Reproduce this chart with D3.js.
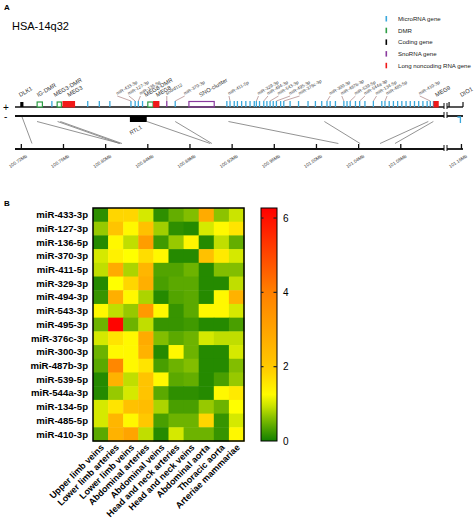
<!DOCTYPE html>
<html><head><meta charset="utf-8">
<script src="https://cdn.jsdelivr.net/npm/d3@7"></script>
<style>body{margin:0;background:#fff}svg{display:block;font-family:"Liberation Sans",Arial,sans-serif}</style>
</head><body>
<svg id="chart" width="474" height="531"></svg>
<script>
// ---------- Panel B data ----------
const mirnas = ["miR-433-3p","miR-127-3p","miR-136-5p","miR-370-3p","miR-411-5p","miR-329-3p","miR-494-3p","miR-543-3p","miR-495-3p","miR-376c-3p","miR-300-3p","miR-487b-3p","miR-539-5p","miR-544a-3p","miR-134-5p","miR-485-5p","miR-410-3p"];
const tissues = ["Upper limb veins","Lower limb arteries","Lower limb veins","Abdominal arteries","Abdominal veins","Head and neck arteries","Head and neck veins","Abdominal aorta","Thoracic aorta","Arteriae mammariae"];
const expression = [
[0.15,1.8,1.8,1.0,0.15,0.45,0.6,2.8,0.65,0.95],
[0.7,2.1,1.3,2.2,0.75,0.15,0.1,1.0,1.3,1.6],
[0.1,1.3,0.9,3.2,0.25,0.7,1.35,0.1,0.9,0.45],
[1.0,1.4,1.2,1.7,1.3,0.1,0.1,2.2,1.5,1.0],
[0.9,2.8,0.8,2.5,0.35,0.35,0.5,0.1,0.6,0.6],
[0.1,1.2,1.8,2.7,0.3,0.4,0.4,0.1,0.1,0.9],
[0.2,2.7,1.3,0.8,0.1,0.35,0.4,0.1,1.3,2.6],
[1.3,0.9,0.7,3.3,1.3,0.2,0.4,1.3,1.3,1.0],
[0.5,6.2,0.5,0.9,0.2,0.2,0.25,0.1,0.1,0.3],
[1.0,1.6,1.3,2.8,0.6,0.4,0.5,1.0,0.9,0.9],
[0.5,1.3,1.3,2.6,0.1,1.3,0.5,0.1,0.1,1.0],
[0.4,3.8,1.3,1.6,0.3,0.5,0.6,0.1,0.1,0.6],
[0.1,2.6,0.9,2.1,1.3,0.4,0.45,0.1,0.3,0.7],
[0.1,0.7,1.0,2.1,0.4,0.15,0.15,0.1,1.3,1.5],
[1.0,1.6,2.2,2.3,0.8,0.3,0.3,0.7,0.5,1.2],
[1.0,2.5,1.3,2.0,0.3,0.5,0.5,1.8,0.2,1.0],
[0.4,2.6,3.0,0.9,0.1,1.0,0.5,0.5,0.2,1.3]
];
const colorTicks = [0,2,4,6];
const colorMax = 6.27;

// ---------- Panel A data (positions in Mb) ----------
const axisTicksMb = [100.72,100.76,100.80,100.84,100.88,100.92,100.96,101.00,101.04,101.08,101.16];
const mirnaPlus = [100.749,100.783,100.794,100.804,100.824,100.828,100.831,100.835,100.866,
  100.915,100.918,100.922,100.925,100.929,100.933,100.937,100.941,100.943,100.946,100.950,100.953,100.956,100.959,100.962,100.966,100.969,
  100.975,100.983,100.992,100.999,101.005,101.010,101.013,101.018,101.026,101.029,101.032,101.037,101.041,101.046,101.054,101.062,101.065,
  101.069,101.073,101.077,101.081,101.085,101.089,101.093,101.097,101.101,101.105,101.108,101.111];
const mirnaMinus = [101.159];
const dmrs = [{name:"IG-DMR",start:100.735,end:100.740},{name:"MEG3-DMR",start:100.754,end:100.758},{name:"MEG8-DMR",start:100.840,end:100.845}];
const lncRNAs = [{name:"MEG3",start:100.759,end:100.771},{name:"MEG8",start:100.845,end:100.851},{name:"MEG9",start:101.111,end:101.116}];
const codingPlus = [{name:"DLK1",start:100.719,end:100.722}];
const codingMinus = [{name:"RTL1",start:100.823,end:100.839}];
const snoTicks = [100.858];
const snoBoxes = [{name:"SNO-cluster",start:100.879,end:100.903}];
const geneLabels = [
 {name:"DLK1",pos:100.719,kind:"gene"},{name:"IG-DMR",pos:100.736,kind:"gene"},{name:"MEG3-DMR",pos:100.752,kind:"gene"},
 {name:"MEG3",pos:100.765,kind:"gene"},{name:"MEG8-DMR",pos:100.838,kind:"gene"},{name:"MEG8",pos:100.849,kind:"gene"},
 {name:"SNO-cluster",pos:100.890,kind:"gene"},{name:"MEG9",pos:101.114,kind:"gene"},{name:"DIO1",pos:101.160,kind:"gene"},
 {name:"miR-433-3p",pos:100.811,target:100.824,kind:"mir"},{name:"miR-127-3p",pos:100.822,target:100.828,kind:"mir"},
 {name:"miR-136-5p",pos:100.833,target:100.831,kind:"mir"},{name:"snord112",pos:100.858,target:100.858,kind:"mir"},
 {name:"miR-370-3p",pos:100.875,target:100.866,kind:"mir"},{name:"miR-411-5p",pos:100.917,target:100.918,kind:"mir"},
 {name:"miR-329-3p",pos:100.945,target:100.943,kind:"mir"},{name:"miR-494-3p",pos:100.954,target:100.950,kind:"mir"},
 {name:"miR-543-3p",pos:100.964,target:100.956,kind:"mir"},{name:"miR-495-3p",pos:100.975,target:100.962,kind:"mir"},
 {name:"miR-376c-3p",pos:100.984,target:100.969,kind:"mir"},{name:"miR-300-3p",pos:101.013,target:101.010,kind:"mir"},
 {name:"miR-487b-3p",pos:101.024,target:101.026,kind:"mir"},{name:"miR-539-5p",pos:101.037,target:101.032,kind:"mir"},
 {name:"miR-544a-3p",pos:101.046,target:101.041,kind:"mir"},{name:"miR-134-5p",pos:101.057,target:101.054,kind:"mir"},
 {name:"miR-485-5p",pos:101.067,target:101.065,kind:"mir"},{name:"miR-410-3p",pos:101.098,target:101.108,kind:"mir"}
];
const connectors = [[100.7207,100.7301],[100.7349,100.8139],[100.7544,100.8132],[100.7570,100.8155],[100.8392,100.8992],
  [100.8660,100.9008],[100.9165,101.0208],[101.0075,101.0414],[101.1061,101.0603],[101.1109,101.0745]];
const legendItems = [{label:"MicroRNA gene",color:"#3aa8dc"},{label:"DMR",color:"#2e9e45"},{label:"Coding gene",color:"#000"},{label:"SnoRNA gene",color:"#8a3a9e"},{label:"Long noncoding RNA gene",color:"#f01818"}];
const segments = [[100.714,101.121],[101.146,101.1615]];

// ---------- Drawing ----------
const svg = d3.select("#chart");
const C = {mir:"#3aa8dc", dmr:"#2e9e45", lnc:"#f01818", sno:"#8a3a9e"};

svg.append("text").attr("x",4).attr("y",10).attr("font-size",8).attr("font-weight","bold").text("A");
svg.append("text").attr("x",12).attr("y",30).attr("font-size",11).text("HSA-14q32");

// legend
const lg = svg.append("g");
legendItems.forEach((d,i)=>{
  const y = 19 + i*11.7;
  lg.append("rect").attr("x",385.5).attr("y",y-3).attr("width",1.6).attr("height",5.5).attr("fill",d.color);
  lg.append("text").attr("x",398).attr("y",y+2).attr("font-size",6.1).attr("fill","#222").text(d.label);
});

const xM = d3.scaleLinear().domain([100.714,101.121,101.146,101.1615]).range([15,444,447,463]);
const yPlus = 107, yMinus = 116, yAxis = 149;

// connectors
svg.append("g").selectAll("line").data(connectors).join("line")
  .attr("x1",d=>xM(d[0])).attr("y1",d=> d[0]<100.725?117:121.5)
  .attr("x2",d=>xM(d[1])).attr("y2",143.5)
  .attr("stroke","#777").attr("stroke-width",0.8);

// strands & axis lines
[[yPlus,1.4],[yMinus,1.8],[yAxis,1.8]].forEach(([y,w])=>{
  segments.forEach(s=>{
    svg.append("line").attr("x1",xM(s[0])).attr("x2",xM(s[1])).attr("y1",y).attr("y2",y).attr("stroke","#111").attr("stroke-width",w);
  });
  [segments[0][1],segments[1][0]].forEach(v=>{
    svg.append("line").attr("x1",xM(v)).attr("x2",xM(v)).attr("y1",y-4).attr("y2",y+2).attr("stroke","#111").attr("stroke-width",1);
  });
});
svg.append("line").attr("x1",xM(101.1615)).attr("x2",xM(101.1615)).attr("y1",yPlus-5).attr("y2",yPlus).attr("stroke","#111").attr("stroke-width",1.2);
svg.append("line").attr("x1",xM(101.148)).attr("x2",xM(101.148)).attr("y1",yPlus-5).attr("y2",yPlus).attr("stroke","#111").attr("stroke-width",1.2);

svg.append("text").attr("x",3).attr("y",yPlus+3.5).attr("font-size",10).text("+");
svg.append("text").attr("x",4).attr("y",yMinus+4).attr("font-size",10).text("-");

// axis ticks and labels
const ax = svg.append("g");
ax.selectAll("line").data(axisTicksMb).join("line")
  .attr("x1",d=>xM(d)).attr("x2",d=>xM(d)).attr("y1",yAxis-5).attr("y2",yAxis).attr("stroke","#111").attr("stroke-width",1.3);
ax.selectAll("text").data(axisTicksMb).join("text")
  .attr("transform",d=>`translate(${xM(d)+6},${yAxis+8}) rotate(-33)`)
  .attr("text-anchor","end").attr("font-size",4.6).attr("fill","#333")
  .text(d=>d.toFixed(2)+"Mb");

// features
const g = svg.append("g");
g.selectAll(".mir").data(mirnaPlus).join("line").attr("class","mir")
  .attr("x1",d=>xM(d)).attr("x2",d=>xM(d)).attr("y1",yPlus-6).attr("y2",yPlus).attr("stroke",C.mir).attr("stroke-width",1.3);
mirnaMinus.forEach(d=>{
  g.append("path").attr("d",`M${xM(d)-3},${yMinus+1}H${xM(d)}V${yMinus+7}`).attr("fill","none").attr("stroke",C.mir).attr("stroke-width",1.3);
});
g.selectAll(".sno").data(snoTicks).join("line").attr("class","sno")
  .attr("x1",d=>xM(d)).attr("x2",d=>xM(d)).attr("y1",yPlus-6).attr("y2",yPlus).attr("stroke",C.sno).attr("stroke-width",1.3);
g.selectAll(".snob").data(snoBoxes).join("rect").attr("class","snob")
  .attr("x",d=>xM(d.start)).attr("width",d=>xM(d.end)-xM(d.start)).attr("y",yPlus-5.5).attr("height",5.5)
  .attr("fill","none").attr("stroke",C.sno).attr("stroke-width",1.2);
g.selectAll(".dmr").data(dmrs).join("rect").attr("class","dmr")
  .attr("x",d=>xM(d.start)).attr("width",d=>xM(d.end)-xM(d.start)).attr("y",yPlus-5).attr("height",5)
  .attr("fill","#fff").attr("stroke",C.dmr).attr("stroke-width",1.2);
g.selectAll(".lnc").data(lncRNAs).join("rect").attr("class","lnc")
  .attr("x",d=>xM(d.start)).attr("width",d=>xM(d.end)-xM(d.start)).attr("y",yPlus-6).attr("height",6.5)
  .attr("fill",C.lnc);
g.selectAll(".cp").data(codingPlus).join("rect").attr("class","cp")
  .attr("x",d=>xM(d.start)).attr("width",d=>xM(d.end)-xM(d.start)).attr("y",yPlus-5).attr("height",5).attr("fill","#000");
g.selectAll(".cm").data(codingMinus).join("rect").attr("class","cm")
  .attr("x",d=>xM(d.start)).attr("width",d=>xM(d.end)-xM(d.start)).attr("y",yMinus).attr("height",6).attr("fill","#000");
codingMinus.forEach(d=>{
  svg.append("text").attr("transform",`translate(${xM(d.start)+1},${yMinus+19}) rotate(-30)`).attr("font-size",5.5).attr("fill","#333").text(d.name);
});

// gene labels
const lab = svg.append("g");
geneLabels.forEach(d=>{
  const x = xM(d.pos);
  const y = d.kind==="mir" ? 95 : 97;
  if (d.kind==="mir") {
    lab.append("line").attr("x1",x).attr("y1",96).attr("x2",xM(d.target)).attr("y2",yPlus-6).attr("stroke","#9a6a6a").attr("stroke-width",0.6);
  }
  lab.append("text").attr("transform",`translate(${x},${y}) rotate(-30)`)
    .attr("font-size",d.kind==="mir"?4.5:5.8).attr("fill","#333").text(d.name);
});

// ---------- Panel B ----------
svg.append("text").attr("x",4).attr("y",206).attr("font-size",8).attr("font-weight","bold").text("B");

const color = d3.scaleLinear().domain([0,0.5,1.2,2,4,colorMax])
  .range(["#138000","#6db300","#ffff00","#ffc800","#ff8000","#ff0000"]);
const xH = d3.scaleBand().domain(tissues).range([93,244]);
const yH = d3.scaleBand().domain(mirnas).range([208,441]);

const cells = [];
expression.forEach((row,i)=>row.forEach((v,j)=>cells.push({r:mirnas[i],c:tissues[j],v})));
svg.append("g").selectAll("rect").data(cells).join("rect")
  .attr("x",d=>xH(d.c)).attr("y",d=>yH(d.r)).attr("width",xH.bandwidth()+0.5).attr("height",yH.bandwidth()+0.5)
  .attr("fill",d=>color(d.v));
svg.append("rect").attr("x",93).attr("y",208).attr("width",151).attr("height",233).attr("fill","none").attr("stroke","#000").attr("stroke-width",1.5);

svg.append("g").selectAll("text").data(mirnas).join("text")
  .attr("x",88).attr("y",d=>yH(d)+yH.bandwidth()/2+3.4).attr("text-anchor","end")
  .attr("font-size",9.6).attr("font-weight","bold").text(d=>d);

svg.append("g").selectAll("text").data(tissues).join("text")
  .attr("transform",d=>`translate(${xH(d)+xH.bandwidth()/2+4},${448}) rotate(-45)`)
  .attr("text-anchor","end").attr("font-size",9).attr("font-weight","bold").text(d=>d);

// colour bar
const yC = d3.scaleLinear().domain([0,colorMax]).range([441,208]);
const defs = svg.append("defs");
const grad = defs.append("linearGradient").attr("id","cb").attr("x1",0).attr("y1",1).attr("x2",0).attr("y2",0);
d3.range(0,1.0001,0.05).forEach(t=>{
  grad.append("stop").attr("offset",t).attr("stop-color",color(t*colorMax));
});
svg.append("rect").attr("x",261).attr("y",208).attr("width",16).attr("height",233).attr("fill","url(#cb)").attr("stroke","#000").attr("stroke-width",1);
const cbt = svg.append("g");
colorTicks.forEach(v=>{
  if (v>0) {
    cbt.append("line").attr("x1",273.5).attr("x2",277).attr("y1",yC(v)).attr("y2",yC(v)).attr("stroke","#222").attr("stroke-width",1.2);
    cbt.append("line").attr("x1",261).attr("x2",263.5).attr("y1",yC(v)).attr("y2",yC(v)).attr("stroke","#222").attr("stroke-width",1.2);
  }
  cbt.append("text").attr("x",283).attr("y",yC(v)+3.6).attr("font-size",10).text(v);
});
</script>
</body></html>
